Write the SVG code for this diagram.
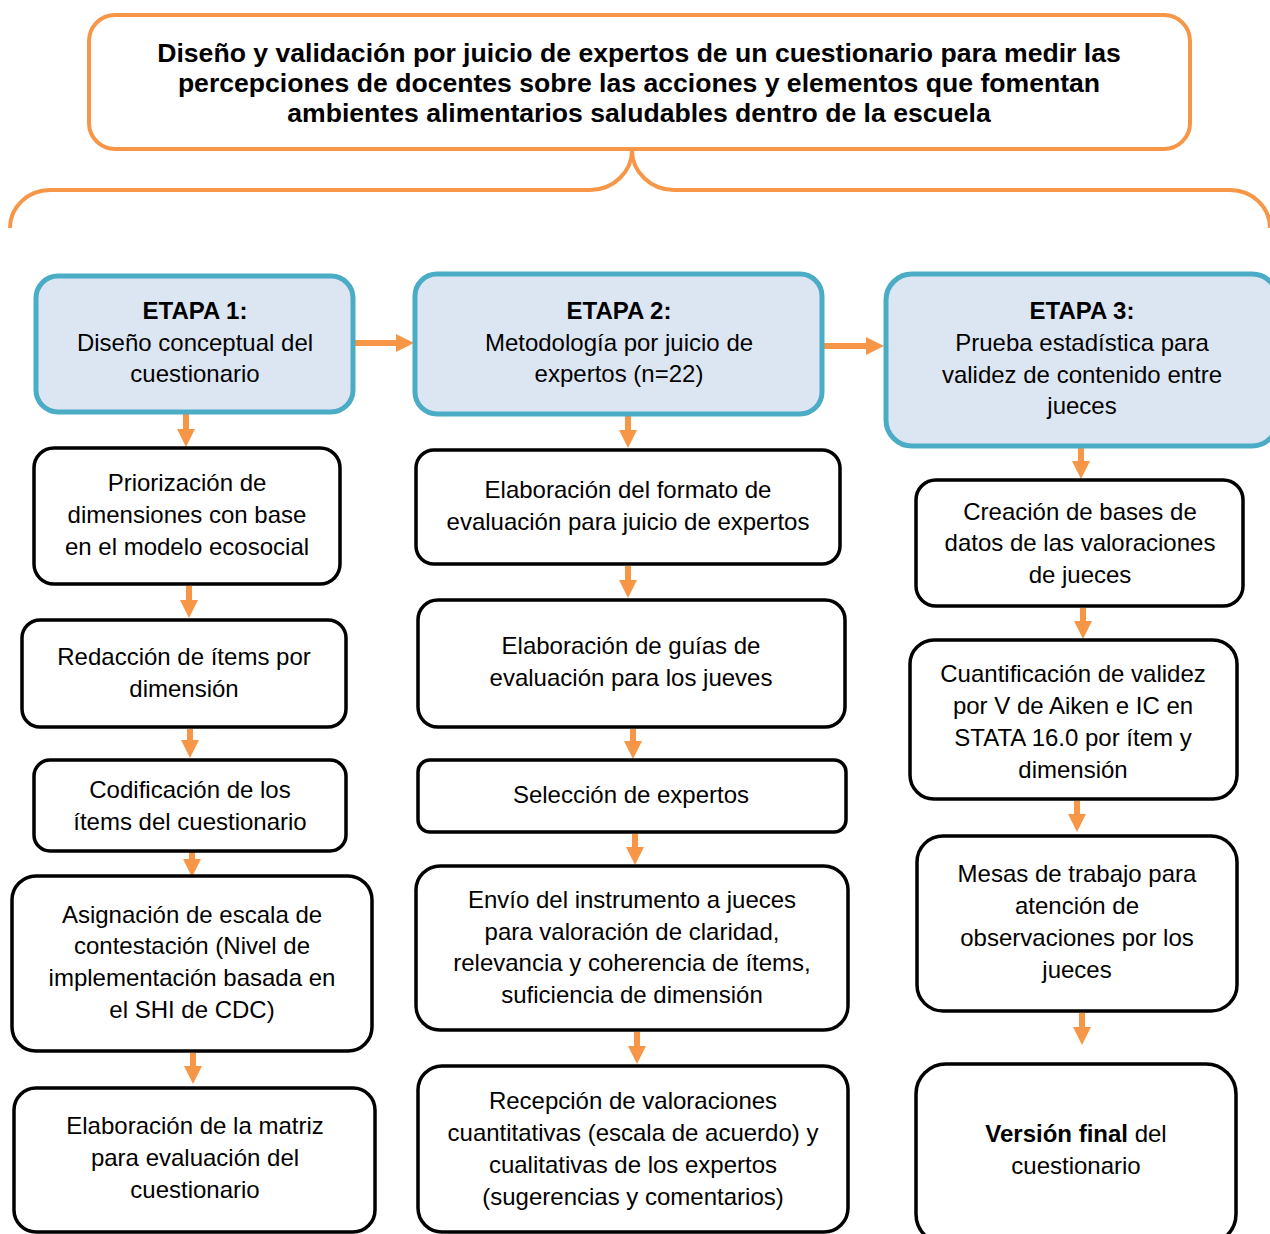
<svg xmlns="http://www.w3.org/2000/svg" width="1270" height="1234" viewBox="0 0 1270 1234">
<style>
.t{font-family:"Liberation Sans",Arial,sans-serif;font-size:24px;fill:#000;text-anchor:middle}
.b{font-weight:bold}
.ttl{font-family:"Liberation Sans",Arial,sans-serif;font-size:26.6px;font-weight:bold;fill:#000;text-anchor:middle}
.box{fill:#fff;stroke:#000;stroke-width:3.5}
.stage{fill:#DCE6F2;stroke:#4BACC6;stroke-width:5}
.org{fill:none;stroke:#F79646;stroke-width:4}
.arr{stroke:#F79646;stroke-width:6;fill:none;marker-end:url(#ah)}
</style>
<defs>
<marker id="ah" markerUnits="userSpaceOnUse" markerWidth="18" markerHeight="18" refX="1" refY="9" orient="auto" viewBox="0 0 18 18">
<path d="M0,0 L18,9 L0,18 z" fill="#F79646"/>
</marker>
</defs>
<rect width="1270" height="1234" fill="#fff"/>

<g id="title">
<rect class="org" x="89" y="15" width="1101" height="134" rx="26"/>
<text class="ttl" x="639" y="62">Diseño y validación por juicio de expertos de un cuestionario para medir las</text>
<text class="ttl" x="639" y="92">percepciones de docentes sobre las acciones y elementos que fomentan</text>
<text class="ttl" x="639" y="122">ambientes alimentarios saludables dentro de la escuela</text>
</g>

<g id="brace">
<path class="org" d="M10,228 A40,38 0 0 1 50,190 L590,190 A42,40 0 0 0 632,150 A42,40 0 0 0 674,190 L1230,190 A40,38 0 0 1 1270,228"/>
</g>

<g id="connectors">
<line class="arr" x1="353" y1="343" x2="397" y2="343"/>
<line class="arr" x1="822" y1="346" x2="867" y2="346"/>
<line class="arr" x1="186" y1="413" x2="186" y2="430"/>
<line class="arr" x1="189" y1="586" x2="189" y2="601"/>
<line class="arr" x1="190" y1="729" x2="190" y2="741"/>
<line class="arr" x1="192" y1="852" x2="192" y2="860"/>
<line class="arr" x1="193" y1="1053" x2="193" y2="1067"/>
<line class="arr" x1="628" y1="416" x2="628" y2="431"/>
<line class="arr" x1="628" y1="566" x2="628" y2="581"/>
<line class="arr" x1="633" y1="729" x2="633" y2="742"/>
<line class="arr" x1="635" y1="834" x2="635" y2="848"/>
<line class="arr" x1="637" y1="1032" x2="637" y2="1047"/>
<line class="arr" x1="1081" y1="448" x2="1081" y2="462"/>
<line class="arr" x1="1083" y1="608" x2="1083" y2="622"/>
<line class="arr" x1="1077" y1="801" x2="1077" y2="815"/>
<line class="arr" x1="1082" y1="1013" x2="1082" y2="1028"/>
</g>

<g id="etapa1">
<rect class="stage" x="36" y="276" width="317" height="136" rx="22"/>
<text class="t b" x="195" y="319">ETAPA 1:</text>
<text class="t" x="195" y="351">Diseño conceptual del</text>
<text class="t" x="195" y="382">cuestionario</text>
</g>
<g id="etapa2">
<rect class="stage" x="415" y="274" width="407" height="140" rx="22"/>
<text class="t b" x="619" y="319">ETAPA 2:</text>
<text class="t" x="619" y="351">Metodología por juicio de</text>
<text class="t" x="619" y="382">expertos (n=22)</text>
</g>
<g id="etapa3">
<rect class="stage" x="886" y="274" width="392" height="172" rx="26"/>
<text class="t b" x="1082" y="319">ETAPA 3:</text>
<text class="t" x="1082" y="351">Prueba estadística para</text>
<text class="t" x="1082" y="383">validez de contenido entre</text>
<text class="t" x="1082" y="414">jueces</text>
</g>

<g id="n1a">
<rect class="box" x="34" y="448" width="306" height="136" rx="20"/>
<text class="t" x="187" y="491">Priorización de</text>
<text class="t" x="187" y="523">dimensiones con base</text>
<text class="t" x="187" y="555">en el modelo ecosocial</text>
</g>
<g id="n1b">
<rect class="box" x="22" y="620" width="324" height="107" rx="18"/>
<text class="t" x="184" y="665">Redacción de ítems por</text>
<text class="t" x="184" y="697">dimensión</text>
</g>
<g id="n1c">
<rect class="box" x="34" y="760" width="312" height="91" rx="16"/>
<text class="t" x="190" y="798">Codificación de los</text>
<text class="t" x="190" y="830">ítems del cuestionario</text>
</g>
<g id="n1d">
<rect class="box" x="12" y="876" width="360" height="175" rx="24"/>
<text class="t" x="192" y="923">Asignación de escala de</text>
<text class="t" x="192" y="954">contestación (Nivel de</text>
<text class="t" x="192" y="986">implementación basada en</text>
<text class="t" x="192" y="1018">el SHI de CDC)</text>
</g>
<g id="n1e">
<rect class="box" x="14" y="1088" width="361" height="144" rx="22"/>
<text class="t" x="195" y="1134">Elaboración de la matriz</text>
<text class="t" x="195" y="1166">para evaluación del</text>
<text class="t" x="195" y="1198">cuestionario</text>
</g>

<g id="n2a">
<rect class="box" x="416" y="450" width="424" height="114" rx="18"/>
<text class="t" x="628" y="498">Elaboración del formato de</text>
<text class="t" x="628" y="530">evaluación para juicio de expertos</text>
</g>
<g id="n2b">
<rect class="box" x="418" y="600" width="427" height="127" rx="20"/>
<text class="t" x="631" y="654">Elaboración de guías de</text>
<text class="t" x="631" y="686">evaluación para los jueves</text>
</g>
<g id="n2c">
<rect class="box" x="418" y="760" width="428" height="72" rx="12"/>
<text class="t" x="631" y="803">Selección de expertos</text>
</g>
<g id="n2d">
<rect class="box" x="416" y="866" width="432" height="164" rx="24"/>
<text class="t" x="632" y="908">Envío del instrumento a jueces</text>
<text class="t" x="632" y="940">para valoración de claridad,</text>
<text class="t" x="632" y="971">relevancia y coherencia de ítems,</text>
<text class="t" x="632" y="1003">suficiencia de dimensión</text>
</g>
<g id="n2e">
<rect class="box" x="418" y="1066" width="430" height="166" rx="24"/>
<text class="t" x="633" y="1109">Recepción de valoraciones</text>
<text class="t" x="633" y="1141">cuantitativas (escala de acuerdo) y</text>
<text class="t" x="633" y="1173">cualitativas de los expertos</text>
<text class="t" x="633" y="1205">(sugerencias y comentarios)</text>
</g>

<g id="n3a">
<rect class="box" x="916" y="480" width="327" height="126" rx="20"/>
<text class="t" x="1080" y="520">Creación de bases de</text>
<text class="t" x="1080" y="551">datos de las valoraciones</text>
<text class="t" x="1080" y="583">de jueces</text>
</g>
<g id="n3b">
<rect class="box" x="910" y="640" width="327" height="159" rx="24"/>
<text class="t" x="1073" y="682">Cuantificación de validez</text>
<text class="t" x="1073" y="714">por V de Aiken e IC en</text>
<text class="t" x="1073" y="746">STATA 16.0 por ítem y</text>
<text class="t" x="1073" y="778">dimensión</text>
</g>
<g id="n3c">
<rect class="box" x="917" y="836" width="320" height="175" rx="26"/>
<text class="t" x="1077" y="882">Mesas de trabajo para</text>
<text class="t" x="1077" y="914">atención de</text>
<text class="t" x="1077" y="946">observaciones por los</text>
<text class="t" x="1077" y="978">jueces</text>
</g>
<g id="n3d">
<rect class="box" x="916" y="1064" width="320" height="180" rx="30"/>
<text class="t" x="1076" y="1142"><tspan class="b">Versión final</tspan> del</text>
<text class="t" x="1076" y="1174">cuestionario</text>
</g>
</svg>
